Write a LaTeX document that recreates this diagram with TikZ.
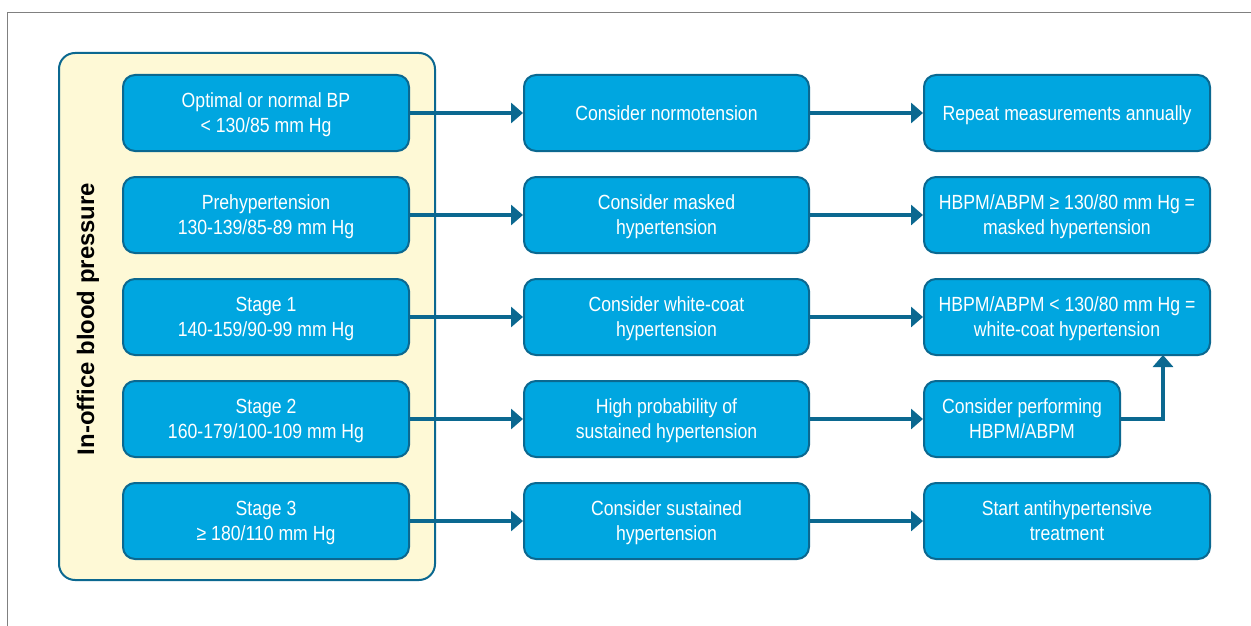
\documentclass[tikz,border=0pt]{standalone}
\usepackage{fontspec}
\setmainfont{Liberation Sans}[FakeStretch=0.86]
\newfontfamily\lblfont{Liberation Sans}
\usetikzlibrary{arrows.meta}
\definecolor{boxfill}{HTML}{00A6E0}
\definecolor{boxline}{HTML}{0B6890}
\definecolor{panel}{HTML}{FEF9D6}
\definecolor{frame}{HTML}{808080}
\tikzset{
  bxbase/.style={draw=boxline, line width=2pt, fill=boxfill, rounded corners=12pt,
    text=white, align=center, font=\fontsize{20.5}{25}\selectfont, inner sep=0pt,
    minimum height=76pt, text depth=5pt},
  bx/.style={bxbase, text height=43pt},
  bxone/.style={bxbase, text height=21pt},
  arr/.style={draw=boxline, line width=4.5pt, -{Triangle[length=12pt,width=20pt]}},
}
\begin{document}
\begin{tikzpicture}[x=1pt,y=-1pt]
\useasboundingbox (0,0) rectangle (1251,626);
\draw[frame, line width=1pt] (1251,13) -- (7,13) -- (7,626);
\node[draw=boxline, line width=2pt, fill=panel, rounded corners=16pt, minimum width=376pt, minimum height=527pt, inner sep=0pt] (panel) at (247,316.5) {};
\node[rotate=90, font=\lblfont\fontsize{23.9}{26}\selectfont\bfseries] (lbl) at (88,319) {In-office blood pressure};
% left column
\node[bx, minimum width=286pt] (l1) at (266,113) {Optimal or normal BP\\< 130/85 mm Hg};
\node[bx, minimum width=286pt] (l2) at (266,215) {Prehypertension\\130-139/85-89 mm Hg};
\node[bx, minimum width=286pt] (l3) at (266,317) {Stage 1\\140-159/90-99 mm Hg};
\node[bx, minimum width=286pt] (l4) at (266,419) {Stage 2\\160-179/100-109 mm Hg};
\node[bx, minimum width=286pt] (l5) at (266,521) {Stage 3\\≥ 180/110 mm Hg};
% middle column
\node[bxone, minimum width=285pt] (m1) at (666.5,113) {Consider normotension};
\node[bx, minimum width=285pt] (m2) at (666.5,215) {Consider masked\\hypertension};
\node[bx, minimum width=285pt] (m3) at (666.5,317) {Consider white-coat\\hypertension};
\node[bx, minimum width=285pt] (m4) at (666.5,419) {High probability of\\sustained hypertension};
\node[bx, minimum width=285pt] (m5) at (666.5,521) {Consider sustained\\hypertension};
% right column
\node[bxone, minimum width=286pt] (r1) at (1067,113) {Repeat measurements annually};
\node[bx, minimum width=286pt] (r2) at (1067,215) {HBPM/ABPM ≥ 130/80 mm Hg =\\masked hypertension};
\node[bx, minimum width=286pt] (r3) at (1067,317) {HBPM/ABPM < 130/80 mm Hg =\\white-coat hypertension};
\node[bx, minimum width=196pt] (r4) at (1022,419) {Consider performing\\HBPM/ABPM};
\node[bx, minimum width=286pt] (r5) at (1067,521) {Start antihypertensive\\treatment};
\coordinate (up) at (1163,355);
% arrows
\foreach \i in {1,...,5} {
  \draw[arr] (l\i.east) -- (m\i.west);
}
\foreach \i in {1,2,3,4,5} {
  \draw[arr] (m\i.east) -- (r\i.west);
}
\draw[arr] (r4.east) -| (up);
\end{tikzpicture}
\end{document}
